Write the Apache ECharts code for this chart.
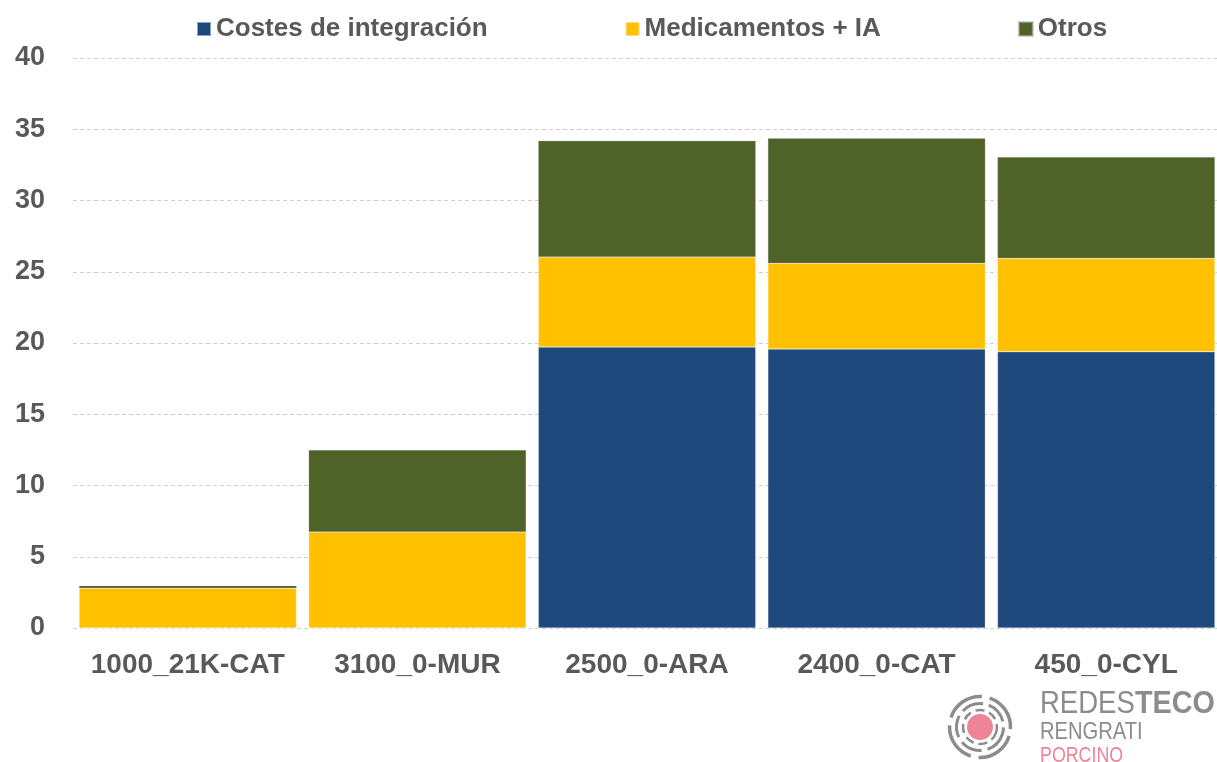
<!DOCTYPE html>
<html lang="es">
  <head>
    <meta charset="UTF-8" />
    <title>Costes por granja</title>
    <script src="https://cdn.jsdelivr.net/npm/echarts@6/dist/echarts.min.js"></script>
    <style>
      body { margin: 0; background: #fff; overflow: hidden; }
    </style>
  </head>
  <body>
    <div id="main" style="width: 1224px; height: 762px"></div>
    <script type="text/javascript">
      const granjas = ["1000_21K-CAT", "3100_0-MUR", "2500_0-ARA", "2400_0-CAT", "450_0-CYL"];
      const costesIntegracion = [0, 0, 19.72, 19.58, 19.39];
      const medicamentosIA = [2.79, 6.74, 6.32, 6.01, 6.55];
      const otros = [0.18, 5.75, 8.15, 8.77, 7.11];
      const yTicks = [0, 5, 10, 15, 20, 25, 30, 35, 40];

      const grey = "#595959";
      const font = "Liberation Sans, Arial, sans-serif";
      const logoGrey = "#8c8c8c";
      const pink = "#f08497";

      let myChart = echarts.init(document.getElementById("main"));

      // logo bottom right: broken rings round a pink dot
      const cx = 980, cy = 727;
      const rings = [];
      [[17, 9, 5, 2.5], [23.5, 22, 6, 3], [30.5, 40, 8, 3.5]].forEach(([r, dash, gap, w]) => {
        rings.push({
          type: "arc",
          shape: { cx: cx, cy: cy, r: r, startAngle: 0.3, endAngle: 0.3 + Math.PI * 2 },
          style: { stroke: logoGrey, lineWidth: w, fill: null, lineDash: [dash, gap] },
          silent: true,
        });
      });

      let options = {
        animation: false,
        legend: {
          top: 11,
          left: 191,
          itemWidth: 14,
          itemHeight: 14,
          itemGap: 137,
          icon: "rect",
          textStyle: { color: grey, fontSize: 26, fontWeight: "bold", fontFamily: font },
          data: ["Costes de integración", "Medicamentos + IA", "Otros"],
        },
        grid: { left: 73, width: 1148, top: 58, bottom: 134, containLabel: false },
        xAxis: {
          type: "category",
          data: granjas,
          axisLine: { show: false },
          axisTick: { show: false },
          axisLabel: { interval: 0, color: grey, fontSize: 28, fontWeight: "bold", fontFamily: font, margin: 23 },
        },
        yAxis: {
          type: "value",
          min: yTicks[0],
          max: yTicks[yTicks.length - 1],
          interval: 5,
          axisLine: { show: false },
          axisTick: { show: false },
          axisLabel: { color: grey, fontSize: 27, fontWeight: "bold", fontFamily: font, margin: 28 },
          splitLine: { lineStyle: { color: "#d0d0d0", type: [4, 3], width: 1 } },
        },
        series: [
          { name: "Costes de integración", type: "bar", stack: "total", data: costesIntegracion, barCategoryGap: "5.3%",
            itemStyle: { color: "#1f497d", borderColor: "rgba(255,255,255,0.5)", borderWidth: 0.5 } },
          { name: "Medicamentos + IA", type: "bar", stack: "total", data: medicamentosIA,
            itemStyle: { color: "#ffc000", borderColor: "rgba(255,255,255,0.5)", borderWidth: 0.5 } },
          { name: "Otros", type: "bar", stack: "total", data: otros,
            itemStyle: { color: "#4f6228", borderColor: "rgba(180,180,180,0.6)", borderWidth: 0.5 } },
        ],
        graphic: rings.concat([
          { type: "circle", shape: { cx: cx, cy: cy, r: 13 }, style: { fill: pink }, silent: true },
          { type: "text", x: 1040, y: 688, scaleX: 0.86,
            style: { text: "REDES", font: "32px Liberation Sans, Arial, sans-serif", fill: logoGrey } },
          { type: "text", x: 1135, y: 688, scaleX: 0.9,
            style: { text: "TECO", font: "bold 32px Liberation Sans, Arial, sans-serif", fill: logoGrey } },
          { type: "text", x: 1040, y: 720, scaleX: 0.84,
            style: { text: "RENGRATI", font: "24px Liberation Sans, Arial, sans-serif", fill: logoGrey } },
          { type: "text", x: 1040, y: 745, scaleX: 0.81,
            style: { text: "PORCINO", font: "22px Liberation Sans, Arial, sans-serif", fill: pink } },
        ]),
      };

      myChart.setOption(options);
    </script>
  </body>
</html>
